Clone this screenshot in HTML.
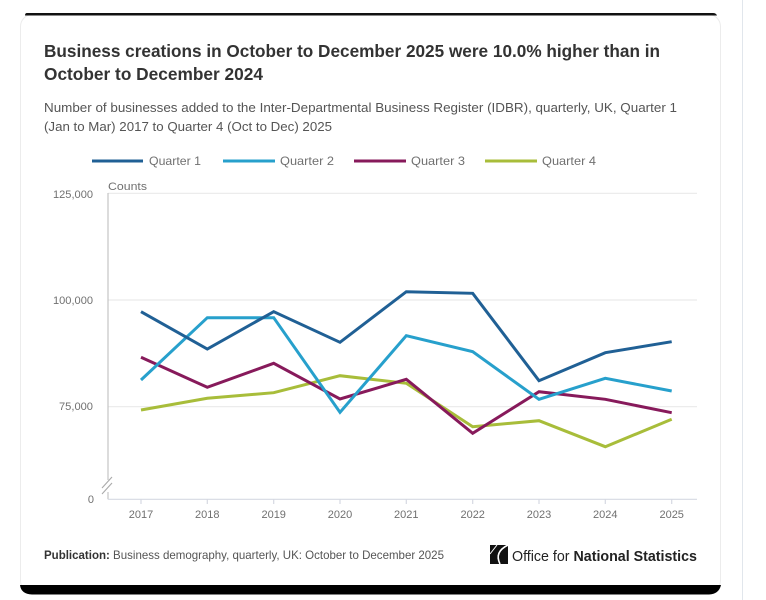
<!DOCTYPE html>
<html>
<head>
<meta charset="utf-8">
<style>
html,body{margin:0;padding:0;background:#fff;}
svg{display:block;}
text{font-family:"Liberation Sans",sans-serif;}
</style>
</head>
<body>
<svg width="766" height="600" viewBox="0 0 766 600" xmlns="http://www.w3.org/2000/svg">
  <rect x="0" y="0" width="766" height="600" fill="#fff"/>
  <!-- right separator -->
  <line x1="742.5" y1="0" x2="742.5" y2="600" stroke="#e1e6ec" stroke-width="1"/>
  <!-- card -->
  <rect x="20.5" y="14.5" width="700" height="578" rx="12" fill="#fff" stroke="#ececec" stroke-width="1"/>
  <!-- top black line -->
  <path d="M27 13 L713 13 Q716 13 717 15.5 L25 15.5 Q25 13 27 13 Z" fill="#111"/>
  <!-- bottom black bar -->
  <path d="M20 585 L721 585 L721 585 Q719 594 709 594.5 L32 594.5 Q21 594 20 585 Z" fill="#000"/>

  <!-- title -->
  <text x="44" y="57" font-size="17.5" font-weight="bold" fill="#333" textLength="616" lengthAdjust="spacingAndGlyphs">Business creations in October to December 2025 were 10.0% higher than in</text>
  <text x="44" y="80" font-size="17.5" font-weight="bold" fill="#333" textLength="219" lengthAdjust="spacingAndGlyphs">October to December 2024</text>

  <!-- subtitle -->
  <text x="44" y="112" font-size="12.5" fill="#555" textLength="633" lengthAdjust="spacingAndGlyphs">Number of businesses added to the Inter-Departmental Business Register (IDBR), quarterly, UK, Quarter 1</text>
  <text x="44" y="131" font-size="12.5" fill="#555" textLength="288" lengthAdjust="spacingAndGlyphs">(Jan to Mar) 2017 to Quarter 4 (Oct to Dec) 2025</text>

  <!-- legend -->
  <g stroke-width="3">
    <line x1="92" y1="161" x2="143" y2="161" stroke="#206095"/>
    <line x1="223" y1="161" x2="275" y2="161" stroke="#27a0cc"/>
    <line x1="354" y1="161" x2="406" y2="161" stroke="#871a5b"/>
    <line x1="485" y1="161" x2="537" y2="161" stroke="#a8bd3a"/>
  </g>
  <g font-size="12" fill="#707070">
    <text x="149" y="165" textLength="52" lengthAdjust="spacingAndGlyphs">Quarter 1</text>
    <text x="280" y="165" textLength="54" lengthAdjust="spacingAndGlyphs">Quarter 2</text>
    <text x="411" y="165" textLength="54" lengthAdjust="spacingAndGlyphs">Quarter 3</text>
    <text x="542" y="165" textLength="54" lengthAdjust="spacingAndGlyphs">Quarter 4</text>
  </g>

  <!-- gridlines -->
  <g stroke="#e9e9e9" stroke-width="1.2">
    <line x1="108" y1="193.3" x2="697" y2="193.3"/>
    <line x1="108" y1="300" x2="697" y2="300"/>
    <line x1="108" y1="406.7" x2="697" y2="406.7"/>
  </g>
  <!-- axes -->
  <line x1="108" y1="193" x2="108" y2="499.3" stroke="#c4c4c4" stroke-width="1.2"/>
  <line x1="108" y1="499.3" x2="697" y2="499.3" stroke="#d6d9e2" stroke-width="1.2"/>
  <!-- break symbol -->
  <rect x="103" y="480" width="10" height="12" fill="#fff"/>
  <g stroke="#aaa" stroke-width="1.1">
    <line x1="102" y1="488" x2="112" y2="477"/>
    <line x1="102" y1="494" x2="112" y2="483"/>
  </g>
  <!-- ticks -->
  <g stroke="#d6d9e2" stroke-width="1.2">
    <line x1="141" y1="499" x2="141" y2="504"/>
    <line x1="207.3" y1="499" x2="207.3" y2="504"/>
    <line x1="273.7" y1="499" x2="273.7" y2="504"/>
    <line x1="340" y1="499" x2="340" y2="504"/>
    <line x1="406.3" y1="499" x2="406.3" y2="504"/>
    <line x1="472.7" y1="499" x2="472.7" y2="504"/>
    <line x1="539" y1="499" x2="539" y2="504"/>
    <line x1="605.3" y1="499" x2="605.3" y2="504"/>
    <line x1="671.7" y1="499" x2="671.7" y2="504"/>
  </g>

  <!-- axis labels -->
  <text x="108" y="190" font-size="11" fill="#707070" textLength="39" lengthAdjust="spacingAndGlyphs">Counts</text>
  <g font-size="11" fill="#707070" text-anchor="end">
    <text x="93" y="198" textLength="40" lengthAdjust="spacingAndGlyphs">125,000</text>
    <text x="93" y="304" textLength="40" lengthAdjust="spacingAndGlyphs">100,000</text>
    <text x="93" y="410" textLength="34" lengthAdjust="spacingAndGlyphs">75,000</text>
    <text x="94" y="503">0</text>
  </g>
  <g font-size="11" fill="#707070" text-anchor="middle">
    <text x="141" y="518">2017</text>
    <text x="207.3" y="518">2018</text>
    <text x="273.7" y="518">2019</text>
    <text x="340" y="518">2020</text>
    <text x="406.3" y="518">2021</text>
    <text x="472.7" y="518">2022</text>
    <text x="539" y="518">2023</text>
    <text x="605.3" y="518">2024</text>
    <text x="671.7" y="518">2025</text>
  </g>

  <!-- series -->
  <g fill="none" stroke-width="3" stroke-linejoin="miter" stroke-linecap="butt">
    <polyline stroke="#a8bd3a" points="141,410 207.3,398.3 273.7,392.7 340,375.7 406.3,383.3 472.7,426.7 539,420.7 605.3,446.7 671.7,419.3"/>
    <polyline stroke="#871a5b" points="141,357.3 207.3,387.3 273.7,363.3 340,399 406.3,379.3 472.7,433.3 539,391.7 605.3,399.3 671.7,412.7"/>
    <polyline stroke="#27a0cc" points="141,380 207.3,317.7 273.7,317.7 340,412.3 406.3,335.7 472.7,351.7 539,399.3 605.3,378.3 671.7,391"/>
    <polyline stroke="#206095" points="141,311.7 207.3,349 273.7,311.7 340,342.3 406.3,291.7 472.7,293.3 539,380.7 605.3,352.7 671.7,341.7"/>
  </g>

  <!-- footer -->
  <text x="44" y="559" font-size="12" fill="#555" textLength="400" lengthAdjust="spacingAndGlyphs"><tspan font-weight="bold" fill="#333">Publication:</tspan> Business demography, quarterly, UK: October to December 2025</text>
  <!-- ONS logo -->
  <g>
    <path d="M490 545 L508 545 L508 564 L490 564 Z" fill="#111"/>
    <path d="M508 545 Q494 552 500 564" fill="none" stroke="#fff" stroke-width="1.6"/>
    <path d="M490 554 L497 545" fill="none" stroke="#fff" stroke-width="1"/>
  </g>
  <text x="512" y="561" font-size="15" fill="#222" textLength="185" lengthAdjust="spacingAndGlyphs">Office for <tspan font-weight="bold">National Statistics</tspan></text>
</svg>
</body>
</html>
